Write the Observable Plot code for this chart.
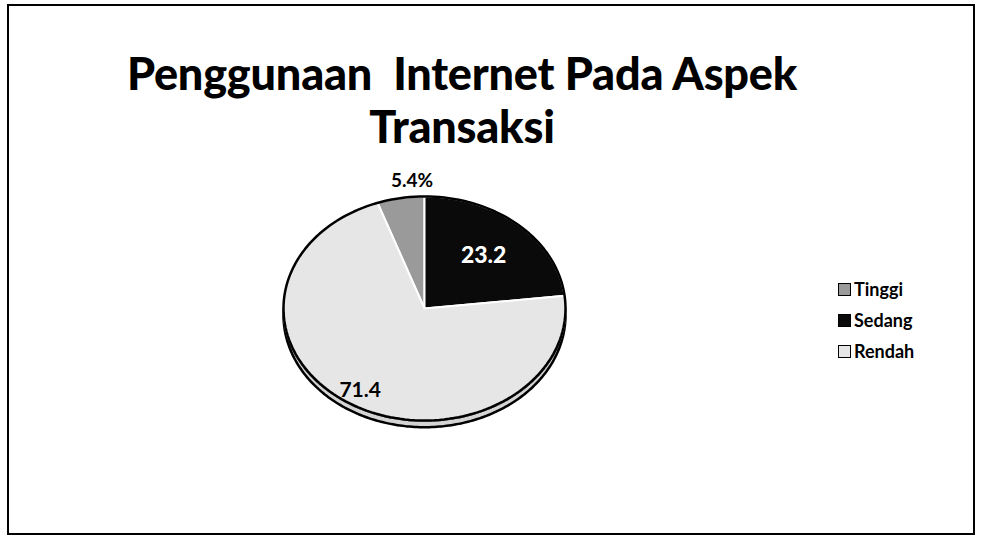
<!DOCTYPE html>
<html>
<head>
<meta charset="utf-8">
<script src="https://cdn.jsdelivr.net/npm/d3@7"></script>
<script src="https://cdn.jsdelivr.net/npm/@observablehq/plot@0.6"></script>
<style>
  html, body { margin: 0; padding: 0; background: #fff; }
  #wrap { position: relative; width: 982px; height: 542px; overflow: hidden; font-family: Lato, "Open Sans", sans-serif; }
  #frame { position: absolute; left: 7px; top: 4px; width: 968px; height: 531px; border: 2.5px solid #000; box-sizing: border-box; }
  #title { position: absolute; left: 0; top: 47px; width: 924px; text-align: center; font-weight: 900; font-size: 45px; line-height: 53px; color: #000; letter-spacing: -0.2px; }
  #chart { position: absolute; left: 0; top: 0; }
  #legend { position: absolute; left: 838px; top: 278px; display: flex; flex-direction: column; gap: 9px; font-weight: 700; font-size: 18px; color: #000; }
  .item { display: flex; align-items: center; height: 22px; }
  .sw { width: 13px; height: 13px; border: 1.5px solid #000; margin-right: 3px; box-sizing: border-box; }
</style>
</head>
<body>
<div id="wrap">
  <div id="frame"></div>
  <div id="title">Penggunaan&nbsp; Internet Pada Aspek<br>Transaksi</div>
  <div id="chart"></div>
  <div id="legend"></div>
</div>
<script>
// ---- data ----
const categories = ["Tinggi", "Sedang", "Rendah"];
const values = [5.4, 23.2, 71.4];
const labels = ["5.4%", "23.2", "71.4"];
const colors = ["#9a9a9a", "#0a0a0a", "#e6e6e6"];

// ---- build slices ----
const total = d3.sum(values);
const startDeg = -(values[0] / total) * 360; // second slice begins at 12 o'clock
const rad = Math.PI / 180;
const pie = d3.pie().sort(null).value(d => d.value)
  .startAngle(startDeg * rad).endAngle((startDeg + 360) * rad);
const rows = categories.map((c, i) => ({category: c, value: values[i], label: labels[i]}));
const arcs = pie(rows);

const depth = 0.06; // 3-D thickness in y-data units
const faceRows = [], sideRows = [];
arcs.forEach(a => {
  const c = a.data.category;
  faceRows.push({category: c, x: 0, y: 0});
  const n = Math.max(2, Math.ceil((a.endAngle - a.startAngle) / rad));
  for (let k = 0; k <= n; k++) {
    const t = a.startAngle + (a.endAngle - a.startAngle) * k / n;
    faceRows.push({category: c, x: Math.sin(t), y: Math.cos(t)});
  }
  faceRows.push({category: c, x: 0, y: 0});
  const s = Math.max(a.startAngle, 90 * rad), e = Math.min(a.endAngle, 270 * rad);
  if (e > s) {
    const m = Math.max(2, Math.ceil((e - s) / rad));
    const pts = d3.range(m + 1).map(k => s + (e - s) * k / m);
    pts.forEach(t => sideRows.push({category: c, x: Math.sin(t), y: Math.cos(t)}));
    pts.slice().reverse().forEach(t => sideRows.push({category: c, x: Math.sin(t), y: Math.cos(t) - depth}));
  }
});

const labelPts = arcs.map(a => {
  const m = (a.startAngle + a.endAngle) / 2;
  const share = a.data.value / total;
  const r = share < 0.1 ? 1.16 : share > 0.5 ? 0.86 : 0.63;
  return {category: a.data.category, label: a.data.label, x: Math.sin(m) * r, y: Math.cos(m) * r, share};
});

const ring = d3.range(0, 361, 2).map(t => ({x: Math.sin(t * rad), y: Math.cos(t * rad)}));

const cx = 424, cy = 308, rx = 141, ry = 112;

const plot = Plot.plot({
  width: 982,
  height: 542,
  margin: 0,
  style: {background: "transparent", overflow: "visible"},
  x: {domain: [-1, 1], range: [cx - rx, cx + rx], axis: null},
  y: {domain: [-1, 1], range: [cy + ry, cy - ry], axis: null},
  color: {domain: categories, range: colors},
  marks: [
    Plot.line(sideRows, {x: "x", y: "y", z: "category", fill: "#d4d4d4", stroke: "#000", strokeWidth: 2.5}),
    Plot.line(faceRows, {x: "x", y: "y", z: "category", fill: "category", stroke: "#fff", strokeWidth: 2}),
    Plot.line(ring, {x: "x", y: "y", stroke: "#000", strokeWidth: 2.5}),
    Plot.text(labelPts.filter(d => d.share < 0.1), {x: "x", y: "y", text: "label", textAnchor: "start", dx: -6, fontSize: 19, fontWeight: 700, fill: "#000", fontFamily: "Lato"}),
    Plot.text(labelPts.filter(d => d.share >= 0.1 && d.share <= 0.5), {x: "x", y: "y", text: "label", fontSize: 23, fontWeight: 900, fill: "#fff", stroke: "#000", strokeWidth: 1.2, fontFamily: "Lato"}),
    Plot.text(labelPts.filter(d => d.share > 0.5), {x: "x", y: "y", text: "label", fontSize: 21, fontWeight: 700, fill: "#000", fontFamily: "Lato"})
  ]
});
document.getElementById("chart").appendChild(plot);

// ---- legend ----
const leg = document.getElementById("legend");
categories.forEach((c, i) => {
  const it = document.createElement("div");
  it.className = "item";
  const sw = document.createElement("span");
  sw.className = "sw";
  sw.style.background = colors[i];
  const tx = document.createElement("span");
  tx.textContent = c;
  it.appendChild(sw); it.appendChild(tx);
  leg.appendChild(it);
});
</script>
</body>
</html>
